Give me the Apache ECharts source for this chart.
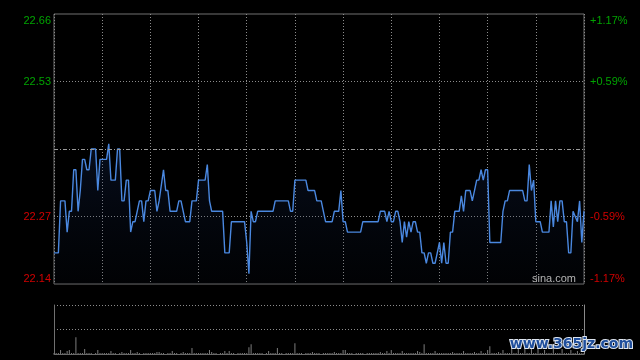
<!DOCTYPE html>
<html>
<head>
<meta charset="utf-8">
<script src="https://cdn.jsdelivr.net/npm/echarts@6/dist/echarts.min.js"></script>
<style>
  html, body { margin: 0; padding: 0; background: #000; }
  #chart { width: 640px; height: 360px; }
</style>
</head>
<body>
<div id="chart"></div>
<script>
// minute index of each vertex of the price line (0 = open, 242 = close)
const minutes = [
  0, 2, 3, 5, 6, 7, 8, 9, 10, 11, 12, 13, 14, 15, 16, 17, 19, 20, 21, 24,
  25, 26, 28, 29, 30, 31, 32, 33, 34, 35, 36, 37, 39, 40, 41, 42, 43, 44, 46, 47,
  48, 50, 51, 52, 53, 56, 57, 58, 59, 60, 62, 63, 65, 66, 69, 70, 71, 72, 77, 78,
  80, 81, 87, 88, 89, 90, 91, 92, 93, 100, 101, 107, 108, 109, 110, 115, 116, 119, 120, 122,
  123, 124, 127, 128, 130, 131, 132, 133, 134, 140, 141, 148, 149, 151, 152, 153, 154, 155, 156, 157,
  158, 159, 160, 161, 162, 163, 164, 165, 166, 167, 168, 169, 170, 171, 172, 173, 174, 175, 176, 177,
  178, 179, 180, 181, 182, 183, 185, 186, 187, 188, 190, 191, 192, 193, 194, 195, 196, 197, 198, 199,
  204, 205, 206, 207, 208, 214, 215, 216, 217, 218, 219, 220, 222, 223, 226, 227, 228, 229, 230, 231,
  232, 233, 234, 235, 236, 237, 239, 240, 241, 242
]
const prices = [
  22.20, 22.20, 22.30, 22.30, 22.24, 22.28, 22.28, 22.36, 22.36, 22.28, 22.32, 22.38, 22.38, 22.36, 22.36, 22.40, 22.40, 22.32, 22.38, 22.38,
  22.41, 22.34, 22.34, 22.40, 22.40, 22.30, 22.30, 22.34, 22.34, 22.24, 22.26, 22.26, 22.30, 22.30, 22.26, 22.30, 22.30, 22.32, 22.32, 22.28,
  22.30, 22.36, 22.32, 22.32, 22.28, 22.28, 22.30, 22.30, 22.28, 22.26, 22.26, 22.30, 22.30, 22.34, 22.34, 22.37, 22.30, 22.28, 22.28, 22.20,
  22.20, 22.26, 22.26, 22.22, 22.16, 22.28, 22.26, 22.26, 22.28, 22.28, 22.30, 22.30, 22.28, 22.28, 22.34, 22.34, 22.32, 22.32, 22.30, 22.30,
  22.28, 22.26, 22.26, 22.28, 22.28, 22.32, 22.26, 22.26, 22.24, 22.24, 22.26, 22.26, 22.28, 22.28, 22.26, 22.28, 22.26, 22.26, 22.28, 22.28,
  22.26, 22.22, 22.26, 22.23, 22.26, 22.24, 22.26, 22.26, 22.24, 22.24, 22.20, 22.20, 22.18, 22.20, 22.20, 22.18, 22.18, 22.20, 22.22, 22.18,
  22.22, 22.18, 22.18, 22.24, 22.24, 22.28, 22.28, 22.31, 22.28, 22.32, 22.32, 22.30, 22.32, 22.34, 22.34, 22.36, 22.34, 22.36, 22.36, 22.22,
  22.22, 22.28, 22.30, 22.30, 22.32, 22.32, 22.30, 22.30, 22.37, 22.32, 22.34, 22.26, 22.26, 22.24, 22.24, 22.30, 22.25, 22.30, 22.26, 22.30,
  22.30, 22.26, 22.26, 22.20, 22.20, 22.28, 22.26, 22.30, 22.22, 22.28
]
// volume per minute, read as bar heights
const volumes = [
  1, 1, 1, 4, 1, 1, 3, 4, 1, 1, 17, 1, 1, 1, 5, 1, 1, 1, 0, 1, 4, 1,
  1, 1, 1, 1, 3, 1, 1, 0, 1, 2, 1, 1, 1, 4, 1, 1, 2, 1, 0, 1, 1, 1,
  1, 1, 1, 2, 2, 1, 1, 0, 1, 1, 3, 1, 1, 0, 1, 2, 1, 1, 1, 6, 1, 1,
  1, 1, 1, 1, 1, 4, 2, 1, 1, 0, 1, 1, 3, 1, 3, 1, 1, 0, 1, 1, 1, 1,
  1, 7, 10, 1, 1, 1, 1, 1, 0, 1, 3, 1, 1, 1, 6, 1, 1, 0, 1, 1, 1, 1,
  11, 1, 1, 1, 0, 1, 1, 1, 2, 1, 1, 1, 0, 1, 1, 1, 1, 1, 2, 1, 1, 1,
  4, 4, 1, 1, 1, 0, 1, 1, 1, 1, 0, 1, 1, 1, 1, 1, 1, 2, 1, 1, 3, 1,
  4, 1, 1, 1, 1, 3, 1, 1, 1, 1, 1, 1, 3, 2, 1, 10, 1, 1, 1, 1, 3, 1,
  1, 1, 1, 1, 1, 1, 2, 1, 1, 1, 1, 3, 1, 1, 1, 1, 2, 1, 1, 3, 1, 1,
  4, 8, 1, 1, 1, 2, 1, 4, 1, 1, 1, 6, 1, 1, 9, 1, 1, 6, 1, 1, 5, 1,
  1, 7, 1, 1, 4, 1, 1, 1, 6, 1, 1, 1, 5, 1, 1, 1, 4, 1, 1, 3, 1, 1,
  1
]
const prevClose = 22.40
const priceMin = 22.14
const priceMax = 22.66
// labels of the five horizontal levels, bottom to top
const priceTicks = ['22.14', '22.27', '', '22.53', '22.66']
const pctTicks = ['-1.17%', '-0.59%', '', '+0.59%', '+1.17%']

const GREEN = '#00a400'
const RED = '#d20000'
const GRID = '#8c8c8c'
const FONT = 'Liberation Sans, Arial, sans-serif'

function levelLabel(ticks) {
  return function (v) {
    const i = Math.round(v) + 2
    const t = ticks[i]
    if (!t) return ''
    if (i === 4) return '{upTop|' + t + '}'
    if (i === 0) return '{downBot|' + t + '}'
    return (i > 2 ? '{up|' : '{down|') + t + '}'
  }
}
const labelRich = {
  up: { color: GREEN, fontSize: 11, fontFamily: FONT },
  down: { color: RED, fontSize: 11, fontFamily: FONT },
  upTop: { color: GREEN, fontSize: 11, fontFamily: FONT, padding: [13, 0, 0, 0] },
  downBot: { color: RED, fontSize: 11, fontFamily: FONT, padding: [0, 0, 11, 0] }
}

const chart = echarts.init(document.getElementById('chart'))
chart.setOption({
  backgroundColor: '#000',
  animation: false,
  grid: [
    { left: 54, right: 56, top: 14, height: 270, show: true, borderColor: '#707070', borderWidth: 1, backgroundColor: 'transparent' },
    { left: 54, right: 56, top: 305, height: 49 }
  ],
  xAxis: [
    {
      type: 'value', gridIndex: 0, min: 0, max: 242, interval: 22,
      axisLine: { show: false }, axisTick: { show: false }, axisLabel: { show: false },
      splitLine: { show: true, lineStyle: { color: GRID, type: [1, 2], width: 1 } }
    },
    {
      type: 'value', gridIndex: 1, min: 0, max: 242, interval: 22,
      axisLine: { show: true, lineStyle: { color: '#6a6a6a', width: 1 } },
      axisTick: { show: false }, axisLabel: { show: false }, splitLine: { show: false }
    }
  ],
  yAxis: [
    { type: 'value', gridIndex: 0, min: priceMin, max: priceMax, show: false },
    {
      type: 'value', gridIndex: 0, min: -2, max: 2, interval: 1, position: 'left',
      axisLine: { show: false }, axisTick: { show: false },
      axisLabel: { margin: 3, formatter: levelLabel(priceTicks), rich: labelRich },
      splitLine: {
        show: true,
        lineStyle: { color: ['rgba(0,0,0,0)', GRID, 'rgba(0,0,0,0)', GRID, 'rgba(0,0,0,0)'], type: [1, 2], width: 1 }
      }
    },
    {
      type: 'value', gridIndex: 0, min: -2, max: 2, interval: 1, position: 'right',
      axisLine: { show: false }, axisTick: { show: false },
      axisLabel: { margin: 6, formatter: levelLabel(pctTicks), rich: labelRich },
      splitLine: { show: false }
    },
    {
      type: 'value', gridIndex: 1, min: 0, max: 50, interval: 25,
      axisLine: { show: true, lineStyle: { color: '#707070', width: 1 } },
      axisTick: { show: false }, axisLabel: { show: false },
      splitLine: { show: true, lineStyle: { color: GRID, type: [1, 2], width: 1 } }
    },
    {
      type: 'value', gridIndex: 1, min: 0, max: 50, position: 'right',
      axisLine: { show: true, lineStyle: { color: '#8a8a8a', width: 1 } },
      axisTick: { show: false }, axisLabel: { show: false }, splitLine: { show: false }
    }
  ],
  series: [
    {
      type: 'line',
      xAxisIndex: 0,
      yAxisIndex: 0,
      data: minutes.map((m, i) => [m, prices[i]]),
      showSymbol: false,
      lineStyle: { color: '#4a88e0', width: 1.4 },
      areaStyle: {
        origin: 'start',
        color: new echarts.graphic.LinearGradient(0, 0, 0, 1, [
          { offset: 0, color: 'rgba(30, 60, 130, 0.32)' },
          { offset: 1, color: 'rgba(10, 20, 40, 0.15)' }
        ])
      },
      markLine: {
        silent: true,
        symbol: 'none',
        label: { show: false },
        lineStyle: { color: '#9a9a9a', type: [4, 2, 1, 2], width: 1 },
        data: [{ yAxis: prevClose }]
      },
      z: 3
    },
    {
      type: 'bar',
      xAxisIndex: 1,
      yAxisIndex: 3,
      data: volumes.map((v, i) => [i, v]),
      barWidth: 1,
      itemStyle: { color: '#7c7c7c' }
    }
  ],
  graphic: [
    {
      type: 'text', left: 532, top: 273, z: 10,
      style: { text: 'sina.com', fill: '#b4b4b4', fontSize: 11, fontFamily: FONT }
    },
    {
      type: 'text', right: 6, top: 336, z: 10,
      style: {
        text: 'www.365jz.com', fill: '#1f4e9c', fontSize: 14, fontWeight: 'bold',
        fontFamily: 'DejaVu Sans, Verdana, sans-serif', stroke: '#dce4ef', lineWidth: 2
      }
    }
  ]
})
</script>
</body>
</html>
